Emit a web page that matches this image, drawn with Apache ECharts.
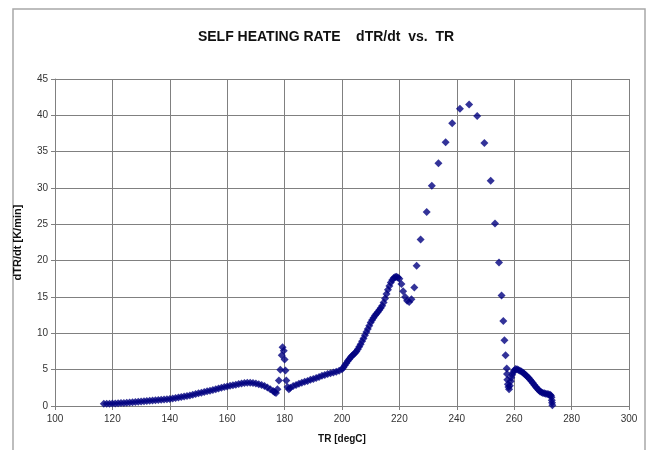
<!DOCTYPE html>
<html>
<head>
<meta charset="utf-8">
<script src="https://cdn.jsdelivr.net/npm/echarts@6/dist/echarts.min.js"></script>
<style>
    html, body { margin: 0; padding: 0; background: #fff; }
    #chart { width: 652px; height: 450px; }
</style>
</head>
<body>
<div id="chart"></div>
<script>
    // TR [degC] and dTR/dt [K/min]
    var tempTR = [
        117, 118, 119, 120, 121, 122, 123, 124, 125, 126, 127, 128, 129, 130,
        131, 132, 133, 134, 135, 136, 137, 138, 139, 140, 141, 142, 143, 144, 145,
        146, 147, 148, 149, 150, 151, 152, 153, 154, 155, 156, 157, 158, 159, 160,
        161, 162, 163, 164, 165, 166, 167, 168, 169, 170, 171, 172, 173, 174, 175,
        176, 176.5, 177, 177.5, 178, 178.5, 179, 179.3, 179.7, 180, 180.3, 180.6, 181, 181.5,
        182, 183, 184, 185, 186, 187, 188, 189, 190, 191, 192, 193, 194, 195,
        196, 197, 198, 199, 200, 200.5, 201, 201.5, 202, 202.5, 203, 203.5, 204, 204.5,
        205, 205.5, 206, 206.5, 207, 207.5, 208, 208.5, 209, 209.5, 210, 210.5, 211, 211.5,
        212, 212.5, 213, 213.5, 214, 214.5, 215, 215.5, 216, 216.5, 217, 217.5, 218, 218.5,
        219, 219.5, 220, 220.7, 221.3, 222, 222.7, 223.4, 224.2, 225.2, 226.0, 227.4,
        229.5, 231.3, 233.6, 236.1, 238.4, 241.1, 244.3, 247.1, 249.6, 251.8, 253.3, 254.7,
        255.6, 256.2, 256.6, 257.0, 257.4, 257.5, 257.6, 257.8, 258.0, 258.2, 258.5, 258.8,
        259.0, 259.3, 259.6, 260.0, 260.5, 261, 261.5, 262, 262.5, 263, 263.5, 264, 264.5,
        265, 265.5, 266, 266.5, 267, 267.5, 268, 268.5, 269, 269.5, 270, 270.5, 271, 271.5,
        272, 272.5, 272.8, 273, 273.1, 273.2, 273.3
    ];
    var heatRate = [
        0.30, 0.31, 0.32, 0.34, 0.36, 0.38, 0.41, 0.43, 0.46, 0.49, 0.52, 0.55, 0.58, 0.62,
        0.65, 0.68, 0.71, 0.75, 0.78, 0.82, 0.86, 0.90, 0.94, 0.98, 1.04, 1.10, 1.17, 1.24, 1.30,
        1.38, 1.46, 1.55, 1.65, 1.75, 1.84, 1.93, 2.02, 2.11, 2.20, 2.30, 2.40, 2.50, 2.60, 2.70,
        2.78, 2.86, 2.94, 3.02, 3.10, 3.15, 3.20, 3.20, 3.15, 3.10, 3.00, 2.90, 2.75, 2.55, 2.30,
        2.05, 1.90, 1.80, 2.30, 3.50, 5.00, 7.00, 8.10, 7.60, 6.40, 4.90, 3.50, 2.60, 2.30,
        2.50, 2.75, 2.90, 3.05, 3.20, 3.35, 3.45, 3.60, 3.70, 3.85, 4.00, 4.15, 4.25, 4.40,
        4.50, 4.60, 4.70, 4.85, 5.05, 5.30, 5.60, 5.90, 6.20, 6.45, 6.70, 6.90, 7.10, 7.30,
        7.50, 7.80, 8.15, 8.50, 8.90, 9.30, 9.75, 10.20, 10.60, 11.05, 11.50, 11.85, 12.15, 12.45,
        12.70, 12.95, 13.20, 13.50, 13.80, 14.25, 14.80, 15.40, 16.00, 16.50, 17.00, 17.35, 17.60, 17.75,
        17.80, 17.70, 17.50, 16.80, 15.80, 15.00, 14.50, 14.30, 14.70, 16.30, 19.30, 22.90,
        26.70, 30.30, 33.40, 36.30, 38.90, 40.90, 41.50, 39.90, 36.20, 31.00, 25.10, 19.75,
        15.20, 11.70, 9.05, 7.00, 5.15, 4.40, 3.60, 3.00, 2.60, 2.30, 2.80, 3.40,
        3.90, 4.30, 4.60, 4.90, 5.10, 5.05, 4.95, 4.85, 4.75, 4.60, 4.45, 4.25, 4.05,
        3.90, 3.65, 3.40, 3.15, 2.90, 2.65, 2.40, 2.20, 2.00, 1.90, 1.80, 1.75, 1.70, 1.65,
        1.60, 1.55, 1.45, 1.20, 0.80, 0.45, 0.10
    ];

    var xTicks = { min: 100, max: 300, step: 20 };
    var yTicks = { min: 0, max: 45, step: 5 };

    var points = tempTR.map(function (t, i) { return [t, heatRate[i]]; });

    var chart = echarts.init(document.getElementById('chart'));
    chart.setOption({
        animation: false,
        backgroundColor: '#ffffff',
        textStyle: { fontFamily: 'Liberation Sans, Arial, sans-serif' },
        title: {
            text: 'SELF HEATING RATE    dTR/dt  vs.  TR',
            left: 'center',
            top: 25,
            textStyle: { fontSize: 14, fontWeight: 'bold', color: '#111' }
        },
        graphic: [{
            type: 'rect',
            shape: { x: 13, y: 9, width: 632, height: 460 },
            style: { fill: 'none', stroke: '#a8a8a8', lineWidth: 1.5 },
            silent: true
        }],
        grid: { left: 55, right: 23, top: 79, bottom: 44 },
        xAxis: {
            type: 'value',
            min: xTicks.min, max: xTicks.max, interval: xTicks.step,
            name: 'TR [degC]',
            nameLocation: 'middle',
            nameGap: 28,
            nameTextStyle: { fontSize: 10, fontWeight: 'bold', color: '#111' },
            axisLine: { show: true, lineStyle: { color: '#808080', width: 1 } },
            axisTick: { show: true, length: 4, lineStyle: { color: '#808080' } },
            axisLabel: { fontSize: 10, color: '#333', margin: 8 },
            splitLine: { show: true, lineStyle: { color: '#808080', width: 1 } }
        },
        yAxis: {
            type: 'value',
            min: yTicks.min, max: yTicks.max, interval: yTicks.step,
            name: 'dTR/dt [K/min]',
            nameLocation: 'middle',
            nameGap: 32,
            nameTextStyle: { fontSize: 11, fontWeight: 'bold', color: '#111' },
            axisLine: { show: true, lineStyle: { color: '#808080', width: 1 } },
            axisTick: { show: true, length: 4, lineStyle: { color: '#808080' } },
            axisLabel: { fontSize: 10, color: '#333', margin: 7 },
            splitLine: { show: true, lineStyle: { color: '#808080', width: 1 } }
        },
        series: [{
            name: 'dTR/dt',
            type: 'scatter',
            symbol: 'diamond',
            symbolSize: 8,
            itemStyle: { color: '#000080' },
            data: points
        }]
    });
</script>
</body>
</html>
